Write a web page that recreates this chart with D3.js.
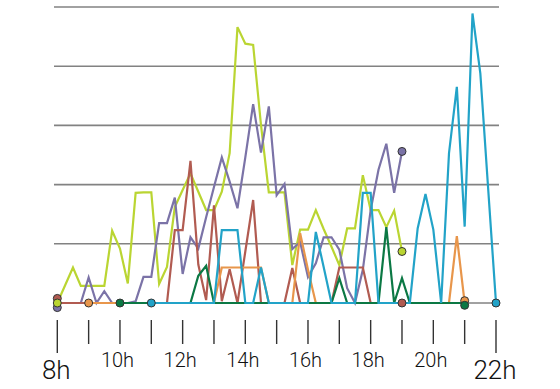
<!DOCTYPE html>
<html>
<head>
<meta charset="utf-8">
<script src="https://cdn.jsdelivr.net/npm/d3@7"></script>
<style>
  body { margin: 0; background: #fff; }
  svg { display: block; }
  text { font-family: Roboto, "Liberation Sans", Arial, sans-serif; font-weight: 300; fill: #111; }
</style>
</head>
<body>
<div id="chart"></div>
<script>
// quarter-hour samples, each series starts at its own hour
var step = 0.25;

var lime   = [0,3,6,2.9,2.9,2.9,2.9,12.2,9.2,3.3,18.6,18.7,18.7,3.2,6.1,16.2,19.1,21.9,18.8,15.7,15.7,18.8,25.3,46.6,43.8,43.6,30.1,18.7,18.7,18.7,6.4,12.4,12.4,15.7,12.5,9.5,6.4,12.6,12.6,21.6,15.7,15.7,12.8,15.6,8.7];
var purple = [0,0,0,0,4.3,0,2,0,0,0,0.3,4.4,4.4,13.5,13.5,17.8,4.9,11.1,9.2,14.5,19.6,24.6,20.5,16,24.6,33.6,25.4,33.2,18.2,20.1,9.1,10.3,4.4,6.7,11.1,11.1,9,2.5,0,5.6,15.7,22.5,26.9,18.6,25.6];
var red    = [0,0,0,0,0,0,0,0,0,0,0,0,0,0,0,12.3,12.3,24,6.5,0.5,16.5,0.3,5.7,0,8.7,17.4,0,0,0,0,5.9,0,0,0,0,0,6,6,6,6,0,0,0,0,0];
var orange = [0,0,0,0,0,0,0,0,0,0,0,0,0,0,0,0,0,6,6,6,6,6,6,0,0,0,0,11.8,5.6,0,0,0,0,0,0,0,0,0,0,0,0,0,0,0,0,0,0,11.3,0];
var green  = [0,0,0,0,0,0,0,0,0,0,4.6,6.3,0,0,0,0,0,0,0,0,0,0,0,0,0,0,0,0,4.2,0,0,0,0,0,12.8,0,4.2,0,0,0,0,0,0,0,0];
var cyan   = [0,0,0,0,0,0,0,0,0,12.3,12.3,12.3,0,0,6,0,0,0,0,0,0,12,6.1,0,0,0,0,18.6,18.6,0,0,0,0,0,12.6,18.4,12.4,0,25.3,36.5,12.9,48.9,38.8,19.3,0];

var seriesNames  = ["lime", "purple", "red", "orange", "green", "cyan"];
var seriesStart  = [8, 8, 8, 9, 10, 11];
var seriesValues = [lime, purple, red, orange, green, cyan];
var seriesColors = ["#bad532", "#7b73a7", "#b15b51", "#e8964b", "#0b7844", "#22a3c8"];
// stacking order when end markers overlap (top to bottom)
var markerStack  = ["red", "lime", "purple", "orange", "green", "cyan"];

var tickHours  = d3.range(8, 23);
var labelHours = [8, 10, 12, 14, 16, 18, 20, 22];
var gridValues = [10, 20, 30, 40, 50];

var width = 560, height = 389;

var svg = d3.select("#chart").append("svg")
  .attr("width", width).attr("height", height);

var x = d3.scaleLinear().domain([8, 22]).range([57.3, 496]);
var y = d3.scaleLinear().domain([0, 50]).range([303, 7]);

// grid
svg.append("g").selectAll("line").data(gridValues).enter().append("line")
  .attr("x1", 54).attr("x2", 499)
  .attr("y1", function(d){ return y(d); }).attr("y2", function(d){ return y(d); })
  .attr("stroke", "#828282").attr("stroke-width", 1.6);

// baseline
svg.append("line")
  .attr("x1", x(8)).attr("x2", x(22))
  .attr("y1", y(0)).attr("y2", y(0))
  .attr("stroke", "#444").attr("stroke-width", 1);

// ticks and labels
var edge = function(h){ return h == 8 || h == 22; };
svg.append("g").selectAll("line").data(tickHours).enter().append("line")
  .attr("x1", function(d){ return x(d); }).attr("x2", function(d){ return x(d); })
  .attr("y1", 320).attr("y2", function(d){ return edge(d) ? 353 : 344; })
  .attr("stroke", "#333").attr("stroke-width", 1.4);

svg.append("g").selectAll("text").data(labelHours).enter().append("text")
  .attr("x", function(d){ return x(d) - (edge(d) ? 1 : 2.5); })
  .attr("y", function(d){ return edge(d) ? 378.5 : 367; })
  .attr("text-anchor", "middle")
  .attr("font-size", function(d){ return edge(d) ? 26 : 20; })
  .text(function(d){ return d + "h"; });

// series
var series = seriesNames.map(function(name, k){
  return {
    name: name,
    color: seriesColors[k],
    points: seriesValues[k].map(function(v, i){ return { t: seriesStart[k] + i * step, v: v }; })
  };
});

var line = d3.line()
  .x(function(d){ return x(d.t); })
  .y(function(d){ return y(d.v); });

svg.append("g").selectAll("path").data(series).enter().append("path")
  .attr("d", function(d){ return line(d.points); })
  .attr("fill", "none")
  .attr("stroke", function(d){ return d.color; })
  .attr("stroke-width", 2.2);

// start / end markers, stacked where they overlap
var markers = [];
series.forEach(function(s){
  var a = s.points[0], b = s.points[s.points.length - 1];
  markers.push({ name: s.name, color: s.color, t: a.t, v: a.v });
  markers.push({ name: s.name, color: s.color, t: b.t, v: b.v });
});
var groups = d3.group(markers, function(m){ return m.t + "|" + Math.round(y(m.v) / 6); });
groups.forEach(function(g){
  g.sort(function(a, b){ return markerStack.indexOf(a.name) - markerStack.indexOf(b.name); });
  g.forEach(function(m, k){ m.dy = (k - (g.length - 1) / 2) * 4.6; });
});
// draw middle of a stack last so it sits on top
markers.sort(function(a, b){ return Math.abs(b.dy) - Math.abs(a.dy); });

svg.append("g").selectAll("circle").data(markers).enter().append("circle")
  .attr("cx", function(d){ return x(d.t); })
  .attr("cy", function(d){ return y(d.v) + d.dy; })
  .attr("r", 4)
  .attr("fill", function(d){ return d.color; })
  .attr("stroke", "#333").attr("stroke-width", 1);
</script>
</body>
</html>
